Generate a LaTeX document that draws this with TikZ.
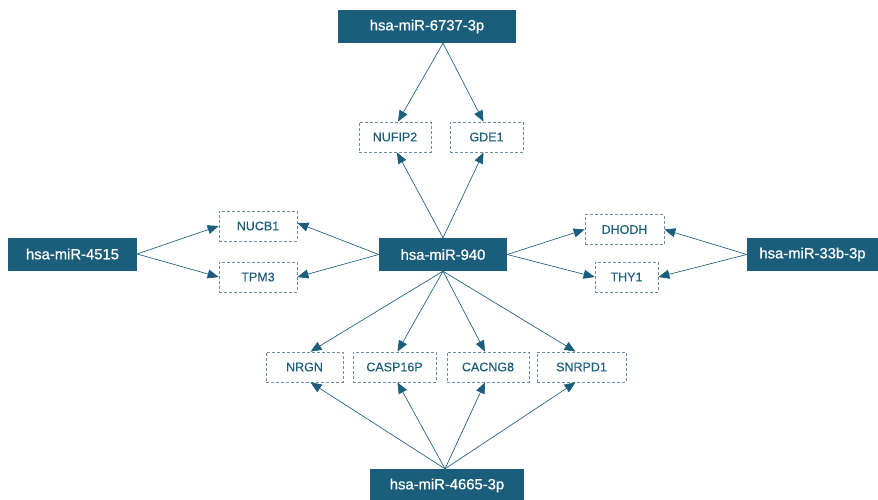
\documentclass[tikz,border=0pt]{standalone}
\usepackage{fontspec}
\setmainfont{Liberation Sans}
\newfontfamily\mirfont[FakeBold=0.8]{Liberation Sans}
\newfontfamily\genefont[FakeBold=0.3]{Liberation Sans}
\usetikzlibrary{arrows.meta}
\definecolor{teal1}{HTML}{1B5E7B}
\definecolor{dashc}{HTML}{6E8C9C}
\tikzset{
  mirna/.style={fill=teal1, text=white, draw=none, inner sep=0pt, minimum height=33pt, font=\mirfont\fontsize{14.8}{17}\selectfont},
  gene/.style={draw=dashc, dashed, dash pattern=on 3pt off 2pt, line width=0.8pt, text=teal1, inner sep=0pt, minimum height=30pt, font=\genefont\fontsize{12.5}{14}\selectfont},
  link/.style={draw=teal1, line width=0.65pt, -{Triangle[length=11pt,width=9pt]}}
}
\begin{document}
\begin{tikzpicture}[x=1pt,y=-1pt]
\useasboundingbox (0,0) rectangle (878,499);
% miRNAs
\node[mirna, minimum width=178pt] (m6737) at (427,26.5) {hsa-miR-6737-3p};
\node[mirna, minimum width=128pt] (m940) at (443,254.5) {hsa-miR-940};
\node[mirna, minimum width=129pt] (m4515) at (72.5,254) {hsa-miR-4515};
\node[mirna, minimum width=131pt] (m33b) at (812.5,254.5) {hsa-miR-33b-3p};
\node[mirna, minimum width=154pt] (m4665) at (447,485.5) {hsa-miR-4665-3p};
% genes
\node[gene, minimum width=72pt] (nufip2) at (395,137) {NUFIP2};
\node[gene, minimum width=73pt] (gde1) at (486.5,137) {GDE1};
\node[gene, minimum width=78pt] (nucb1) at (258,226) {NUCB1};
\node[gene, minimum width=78pt] (tpm3) at (258,277) {TPM3};
\node[gene, minimum width=79pt] (dhodh) at (624.5,229.5) {DHODH};
\node[gene, minimum width=63pt] (thy1) at (626.5,277) {THY1};
\node[gene, minimum width=77pt] (nrgn) at (304.5,367) {NRGN};
\node[gene, minimum width=83pt] (casp) at (394.5,367) {CASP16P};
\node[gene, minimum width=82pt] (cacng) at (488,367) {CACNG8};
\node[gene, minimum width=89pt] (snrpd) at (581.5,367) {SNRPD1};
% edges from 6737
\draw[link] ([xshift=16pt]m6737.south) -- ([xshift=3pt]nufip2.north);
\draw[link] ([xshift=16pt]m6737.south) -- ([xshift=-3pt]gde1.north);
% edges from 940
\draw[link] (m940.north) -- ([xshift=2pt]nufip2.south);
\draw[link] (m940.north) -- ([xshift=-3pt]gde1.south);
\draw[link] (m940.west) -- ([yshift=3pt]nucb1.east);
\draw[link] (m940.west) -- (tpm3.east);
\draw[link] (m940.east) -- (dhodh.west);
\draw[link] (m940.east) -- (thy1.west);
\draw[link] (m940.south) -- ([xshift=6pt]nrgn.north);
\draw[link] (m940.south) -- ([xshift=3pt]casp.north);
\draw[link] (m940.south) -- ([xshift=-3pt]cacng.north);
\draw[link] (m940.south) -- ([xshift=-6pt]snrpd.north);
% edges from 4515
\draw[link] (m4515.east) -- (nucb1.west);
\draw[link] (m4515.east) -- (tpm3.west);
% edges from 33b
\draw[link] (m33b.west) -- (dhodh.east);
\draw[link] (m33b.west) -- (thy1.east);
% edges from 4665
\draw[link] ([xshift=-2pt]m4665.north) -- ([xshift=6pt]nrgn.south);
\draw[link] ([xshift=-2pt]m4665.north) -- ([xshift=3pt]casp.south);
\draw[link] ([xshift=-2pt]m4665.north) -- ([xshift=-3pt]cacng.south);
\draw[link] ([xshift=-2pt]m4665.north) -- ([xshift=-6pt]snrpd.south);
\end{tikzpicture}
\end{document}
